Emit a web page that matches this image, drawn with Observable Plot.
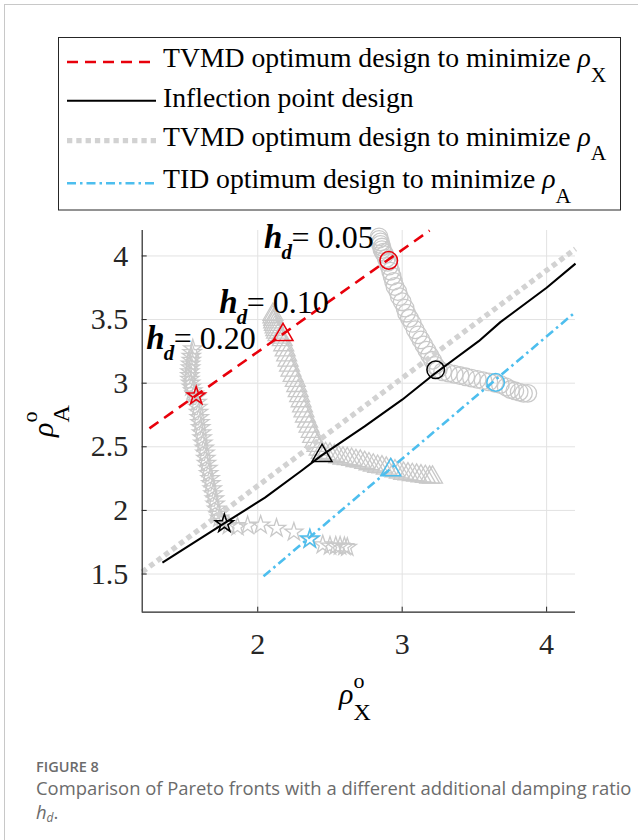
<!DOCTYPE html>
<html><head><meta charset="utf-8">
<script src="https://cdn.jsdelivr.net/npm/d3@7"></script>
<script src="https://cdn.jsdelivr.net/npm/@observablehq/plot@0.6"></script>
<style>
html,body{margin:0;padding:0;background:#fff;width:638px;height:840px;overflow:hidden;position:relative;}
#frame{position:absolute;left:4px;top:4px;width:800px;height:1000px;border-left:1px solid #c8c8c8;border-top:1px solid #c8c8c8;}
#legend{position:absolute;left:0;top:0;}
#chart{position:absolute;left:0;top:215px;}
.cap{position:absolute;left:36px;font-family:"Open Sans",sans-serif;color:#6b6b6b;white-space:nowrap;}
#fig{top:757px;font-size:14.5px;font-weight:600;line-height:20px;}
#txt{top:776px;font-size:18.4px;line-height:24px;}
</style></head>
<body>
<div id="frame"></div>
<svg id="legend" width="638" height="215"></svg>
<div id="chart"></div>
<div id="fig" class="cap">FIGURE 8</div>
<div id="txt" class="cap">Comparison of Pareto fronts with a different additional damping ratio<br><i>h</i><sub style="font-size:12px;font-style:italic;vertical-align:-3px">d</sub>.</div>
<script>
// ---------- data ----------
const xTicks = [2, 3, 4];
const yTicks = [1.5, 2, 2.5, 3, 3.5, 4];
const xDomain = [1.2, 4.2];
const yDomain = [1.2, 4.2];

// Pareto front hd = 0.05 (circles)
const front005 = [[2.84,4.15],[2.84,4.13],[2.85,4.11],[2.85,4.09],[2.86,4.07],[2.86,4.05],[2.87,4.03],[2.88,4.01],[2.89,3.98],[2.90,3.95],[2.91,3.92],[2.92,3.88],[2.93,3.84],[2.94,3.80],[2.95,3.76],[2.97,3.72],[2.98,3.68],[3.00,3.64],[3.02,3.59],[3.03,3.55],[3.05,3.51],[3.07,3.47],[3.09,3.42],[3.11,3.38],[3.13,3.34],[3.15,3.30],[3.17,3.26],[3.19,3.22],[3.21,3.18],[3.23,3.14],[3.25,3.11],[3.28,3.09],[3.32,3.08],[3.36,3.07],[3.40,3.06],[3.44,3.05],[3.48,3.04],[3.52,3.03],[3.56,3.02],[3.60,3.01],[3.64,3.00],[3.68,2.99],[3.72,2.97],[3.75,2.95],[3.78,2.94],[3.81,2.93],[3.84,2.92],[3.87,2.92]];
// Pareto front hd = 0.10 (triangles)
const front010 = [[2.105,3.54],[2.105,3.52],[2.11,3.50],[2.11,3.48],[2.115,3.46],[2.12,3.44],[2.125,3.42],[2.13,3.40],[2.14,3.38],[2.155,3.36],[2.17,3.34],[2.18,3.30],[2.19,3.26],[2.20,3.22],[2.21,3.18],[2.22,3.14],[2.23,3.10],[2.245,3.06],[2.26,3.02],[2.27,2.98],[2.28,2.94],[2.29,2.90],[2.30,2.86],[2.31,2.82],[2.32,2.78],[2.33,2.74],[2.345,2.70],[2.355,2.66],[2.37,2.62],[2.38,2.58],[2.395,2.54],[2.41,2.51],[2.425,2.48],[2.44,2.455],[2.47,2.445],[2.50,2.44],[2.53,2.43],[2.56,2.42],[2.59,2.41],[2.62,2.405],[2.65,2.40],[2.68,2.39],[2.71,2.385],[2.74,2.375],[2.77,2.365],[2.80,2.355],[2.83,2.345],[2.86,2.34],[2.89,2.33],[2.92,2.32],[2.95,2.31],[2.98,2.30],[3.01,2.29],[3.04,2.285],[3.07,2.28],[3.10,2.275],[3.13,2.27],[3.16,2.265],[3.19,2.26],[3.21,2.26]];
// Pareto front hd = 0.20 (stars)
const front020 = [[1.55,3.27],[1.545,3.24],[1.54,3.21],[1.54,3.18],[1.535,3.15],[1.535,3.12],[1.53,3.09],[1.53,3.06],[1.53,3.03],[1.535,3.00],[1.54,2.97],[1.55,2.94],[1.56,2.915],[1.575,2.89],[1.58,2.85],[1.585,2.81],[1.59,2.77],[1.595,2.73],[1.60,2.69],[1.605,2.65],[1.61,2.61],[1.615,2.57],[1.62,2.53],[1.63,2.49],[1.635,2.45],[1.64,2.41],[1.645,2.37],[1.655,2.33],[1.66,2.29],[1.67,2.25],[1.675,2.21],[1.685,2.17],[1.69,2.13],[1.70,2.09],[1.705,2.05],[1.715,2.01],[1.725,1.97],[1.735,1.94],[1.75,1.915],[1.77,1.895],[1.80,1.88],[1.86,1.87],[1.93,1.88],[2.02,1.885],[2.13,1.86],[2.25,1.83],[2.36,1.77],[2.45,1.73],[2.50,1.72],[2.54,1.72],[2.57,1.72],[2.60,1.715],[2.62,1.71]];

// design lines
const lineMinX = [[1.25,2.645],[3.19,4.2]];            // TVMD min rho_X (red dashed)
const lineInflection = [[1.34,1.59],[1.77,1.90],[2.05,2.10],[2.30,2.31],[2.44,2.43],[2.74,2.66],[3.00,2.87],[3.22,3.07],[3.53,3.33],[3.68,3.48],[4.00,3.75],[4.20,3.94]];
const lineMinA = [[1.2,1.516],[4.2,4.056]];            // TVMD min rho_A (gray dotted)
const lineTID = [[2.04,1.482],[4.2,3.56]];             // TID min rho_A (blue dash-dot)

// optimum design markers
const symbols = ["star","triangle","circle"];          // hd = 0.20, 0.10, 0.05
const optMinX = [[1.574,2.90],[2.175,3.38],[2.907,3.965]];
const optInflection = [[1.769,1.896],[2.445,2.43],[3.232,3.105]];
const optTID = [[2.361,1.775],[2.921,2.318],[3.647,3.006]];

// annotations
const annHd = ["0.05","0.10","0.20"];
const annPos = [[2.044,4.142],[1.733,3.631],[1.228,3.348]];

// legend
const legendLabels = ["TVMD optimum design to minimize ","Inflection point design","TVMD optimum design to minimize ","TID optimum design to minimize "];
const legendSubs = ["X", null, "A", "A"];

// ---------- styles ----------
const serif = "'Liberation Serif','Times New Roman',serif";
const RED = "#e8000b", BLUE = "#4dbeee", GRAY = "#c9c9c9", DOT = "#d2d2d2";
const lineStyles = [
  {stroke: RED, strokeWidth: 2.6, dash: "11,7"},
  {stroke: "#000", strokeWidth: 2.1, dash: null},
  {stroke: DOT, strokeWidth: 5.3, dash: "5.3,4"},
  {stroke: BLUE, strokeWidth: 2.6, dash: "9,4,2.5,4"}
];
const symR = {circle: 8.8, triangle: 7.4, star: 5.7};

// ---------- plot ----------
const W = 638, H = 510, mT = 15, mB = 113.3, mL = 141.7, mR = 63;
const plotW = W - mL - mR, plotH = H - mT - mB;
const gx = d => d[0], gy = d => d[1];

const fronts = [front020, front010, front005];
const marks = [
  Plot.ruleX(xTicks, {x: d => d, stroke: "#e2e2e2", strokeWidth: 1}),
  Plot.ruleY(yTicks, {y: d => d, stroke: "#e2e2e2", strokeWidth: 1}),
];
fronts.forEach((f, i) => {
  marks.push(Plot.dot(f, {x: gx, y: gy, symbol: symbols[i], r: symR[symbols[i]], stroke: GRAY, strokeWidth: 1.3, fill: "none"}));
});
const lines = [lineMinX, lineInflection, lineMinA, lineTID];
[2, 0, 1, 3].forEach((idx) => {
  const s = lineStyles[idx];
  marks.push(Plot.line(lines[idx], {x: gx, y: gy, stroke: s.stroke, strokeWidth: s.strokeWidth, strokeDasharray: s.dash, strokeLinecap: "butt"}));
});
[[optMinX, RED], [optInflection, "#000"], [optTID, BLUE]].forEach(([pts, c]) => {
  pts.forEach((p, i) => {
    marks.push(Plot.dot([p], {x: gx, y: gy, symbol: symbols[i], r: symR[symbols[i]], stroke: c, strokeWidth: 1.5, fill: "none"}));
  });
});
// annotations h_d = ...
const ann = annHd.map((v, i) => ({v, x: annPos[i][0], y: annPos[i][1]}));
marks.push(Plot.text(ann, {x: "x", y: "y", text: () => "h", fontSize: 33, fontWeight: "bold", fontStyle: "italic", fontFamily: serif, textAnchor: "start", fill: "#000"}));
marks.push(Plot.text(ann, {x: "x", y: "y", text: () => "d", fontSize: 21, fontWeight: "bold", fontStyle: "italic", fontFamily: serif, textAnchor: "start", dx: 17.5, dy: 14, fill: "#000"}));
marks.push(Plot.text(ann, {x: "x", y: "y", text: d => "= " + d.v, fontSize: 32, fontFamily: serif, textAnchor: "start", dx: 27.5, fill: "#000"}));
// inward ticks + axis lines
marks.push(Plot.tickX(xTicks, {x: d => d, insetTop: plotH - 5, stroke: "#262626"}));
marks.push(Plot.tickY(yTicks, {y: d => d, insetRight: plotW - 5, stroke: "#262626"}));
marks.push(Plot.ruleX([xDomain[0]], {x: d => d, stroke: "#262626", strokeWidth: 1.2}));
marks.push(Plot.ruleY([yDomain[0]], {y: d => d, stroke: "#262626", strokeWidth: 1.2}));

const chart = Plot.plot({
  width: W, height: H, marginTop: mT, marginBottom: mB, marginLeft: mL, marginRight: mR,
  x: {domain: xDomain, ticks: xTicks, tickSize: 0, tickPadding: 20, tickFormat: d => String(d), label: null},
  y: {domain: yDomain, ticks: yTicks, tickSize: 0, tickPadding: 14, tickFormat: d => String(d), label: null},
  style: {fontFamily: serif, fontSize: "30px", background: "transparent", overflow: "visible", color: "#262626"},
  marks
});
document.getElementById("chart").appendChild(chart);

// axis labels with super/subscripts
const svg = d3.select(chart);
function sLabel(sel, sub) {
  sel.attr("font-family", serif).attr("font-size", 30).attr("fill", "#000").attr("text-anchor", "start").style("white-space", "pre");
  sel.append("tspan").attr("font-style", "italic").text("ρ");
  sel.append("tspan").attr("font-size", 22).attr("dy", -16).text("o");
  sel.append("tspan").attr("font-size", 24).attr("dx", -11).attr("dy", 32).text(sub);
}
sLabel(svg.append("text").attr("x", 339).attr("y", 704 - 215), "X");
sLabel(svg.append("g").attr("transform", `translate(53,${437 - 215}) rotate(-90)`).append("text"), "A");

// ---------- legend ----------
const lg = d3.select("#legend");
lg.append("rect").attr("x", 58.5).attr("y", 37.5).attr("width", 562).attr("height", 172.5).attr("fill", "#fff").attr("stroke", "#262626").attr("stroke-width", 1);
const rowBase = [67, 107.3, 145.7, 188.3];
const rowLine = [62, 100.7, 140.7, 183.3];
legendLabels.forEach((lab, i) => {
  const s = lineStyles[i];
  lg.append("line").attr("x1", 67).attr("x2", 156).attr("y1", rowLine[i]).attr("y2", rowLine[i])
    .attr("stroke", s.stroke).attr("stroke-width", s.strokeWidth).attr("stroke-dasharray", s.dash);
  const t = lg.append("text").attr("x", 163).attr("y", rowBase[i]).attr("font-family", serif).attr("font-size", 27.7).attr("fill", "#000").style("white-space", "pre");
  t.append("tspan").text(lab);
  if (legendSubs[i]) {
    t.append("tspan").attr("font-style", "italic").text("ρ");
    t.append("tspan").attr("font-size", 21.5).attr("dy", 14.7).text(legendSubs[i]);
  }
});
</script>
</body></html>
